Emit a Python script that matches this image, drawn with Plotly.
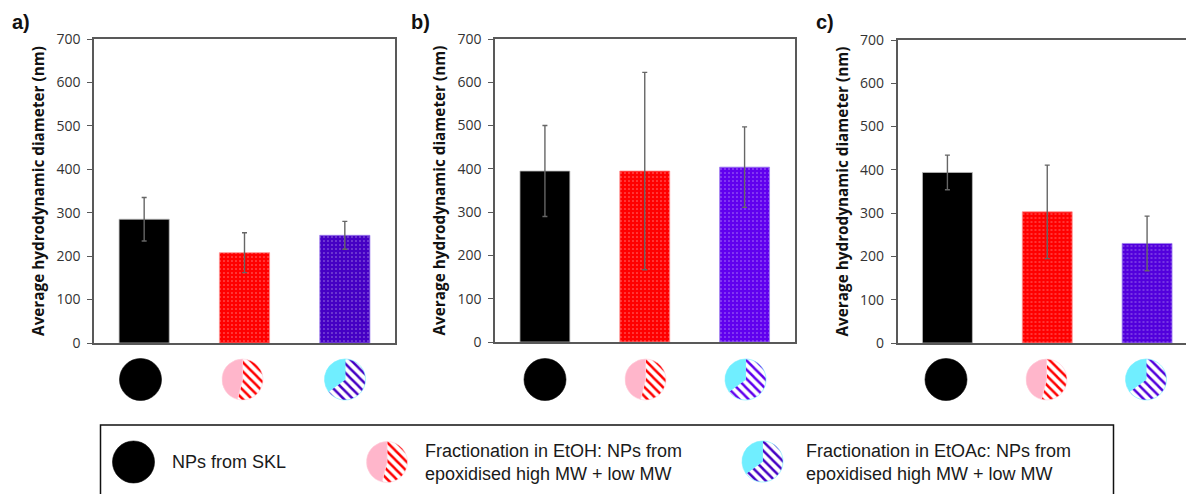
import plotly.graph_objects as go

# ---- data ----
groups = ["NPs from SKL", "EtOH fractionation", "EtOAc fractionation"]
means_a = [285, 208, 248]
errs_a = [50, 46, 32]
means_b = [395, 395, 404]
errs_b = [105, 228, 93]
means_c = [394, 303, 230]
errs_c = [40, 108, 63]
y_ticks = [0, 100, 200, 300, 400, 500, 600, 700]
y_title = "Average hydrodynamic diameter (nm)"
etoh_split = [54, 46]
etoac_split = [65, 35]
legend_single = "NPs from SKL"
legend_etoh = "Fractionation in EtOH: NPs from<br>epoxidised high MW + low MW"
legend_etoac = "Fractionation in EtOAc: NPs from<br>epoxidised high MW + low MW"

# ---- layout in pixels ----
W, H = 1200, 494
def px(x): return x / W
def py(y): return 1 - y / H

panels = [
    dict(name="a)", lx=10, ly=22, box=(94, 395, 39, 343), means=means_a, errs=errs_a,
         blue="#4500C4", cx=[140.5, 242.5, 345], cy=379.5),
    dict(name="b)", lx=409, ly=22, box=(495, 794.5, 39, 342), means=means_b, errs=errs_b,
         blue="#6000EE", cx=[545, 645.5, 745.5], cy=379.5),
    dict(name="c)", lx=814, ly=22, box=(897.5, 1197, 40, 343), means=means_c, errs=errs_c,
         blue="#5200DC", cx=[946, 1046.5, 1146], cy=379.5),
]
RED, PINK, CYAN = "#FF0000", "#FFB6CB", "#70EEFF"
AXIS = "#595959"
TICKFONT = dict(family="Open Sans", size=14, color="#333333")
TITLEFONT = dict(family="Open Sans", size=15.3, color="#111111", weight="bold")

fig = go.Figure()


def add_pie(kind, cx, cy, d, blue):
    dom = dict(x=[px(cx - d / 2), px(cx + d / 2)], y=[py(cy + d / 2), py(cy - d / 2)])
    if kind == 0:
        vals, cols, fgs, shapes, line = [1], ["#000000"], ["#000000"], [""], "#000000"
    elif kind == 1:
        vals, cols, fgs, shapes, line = etoh_split, ["#FFFFFF", PINK], [RED, PINK], ["\\", ""], "#FFD0DC"
    else:
        vals, cols, fgs, shapes, line = etoac_split, ["#FFFFFF", CYAN], [blue, CYAN], ["\\", ""], CYAN
    fig.add_trace(go.Pie(
        values=vals, sort=False, direction="clockwise", rotation=0, domain=dom,
        textinfo="none", hoverinfo="skip", showlegend=False,
        marker=dict(colors=cols, line=dict(color=line, width=0.6),
                    pattern=dict(shape=shapes, fgcolor=fgs, bgcolor=cols, size=6.5, solidity=0.38)),
    ))


annotations = []
for i, p in enumerate(panels):
    sfx = "" if i == 0 else str(i + 1)
    x0, x1, y0, y1 = p["box"]
    colors = ["#000000", RED, p["blue"]]
    fig.add_trace(go.Bar(
        x=groups, y=p["means"], width=0.5, xaxis="x" + sfx, yaxis="y" + sfx, showlegend=False,
        marker=dict(
            color=colors,
            line=dict(color=["#BBBBBB", "#FF9090", "#A080F0"], width=0.8),
            pattern=dict(shape=["", ".", "."], fgcolor="#FFFFFF", bgcolor=colors, size=4, solidity=0.12),
        ),
        error_y=dict(type="data", array=p["errs"], visible=True, color="#666666", thickness=1.4, width=2.5),
    ))
    fig.update_layout({
        "xaxis" + sfx: dict(domain=[px(x0), px(x1)], anchor="y" + sfx, range=[-0.5, 2.5], type="category",
                            showticklabels=False, ticks="", showline=True, linecolor=AXIS, linewidth=1.5,
                            mirror=True, showgrid=False, zeroline=False, automargin=False),
        "yaxis" + sfx: dict(domain=[py(y1), py(y0)], anchor="x" + sfx, range=[0, 700], tickvals=y_ticks,
                            ticks="outside", ticklen=5, tickwidth=1.2, tickcolor=AXIS, tickfont=TICKFONT,
                            ticklabelstandoff=4,
                            showline=True, linecolor=AXIS, linewidth=1.5, mirror=True, showgrid=False,
                            zeroline=False, automargin=False,
                            title=dict(text=y_title, font=TITLEFONT, standoff=8)),
    })
    annotations.append(dict(text=p["name"], x=px(p["lx"]), y=py(p["ly"]), xref="paper", yref="paper",
                            xanchor="left", yanchor="middle", showarrow=False,
                            font=dict(family="Liberation Sans", size=20, color="#111111", weight="bold")))
    for k, cx in enumerate(p["cx"]):
        add_pie(k, cx, p["cy"], 42 if k == 0 else 41, p["blue"])

# legend panel
add_pie(0, 133.5, 462, 42, None)
add_pie(1, 387, 462, 41, None)
add_pie(2, 762.5, 461.5, 41, "#4500C4")
for text, x in [(legend_single, 170), (legend_etoh, 423), (legend_etoac, 804)]:
    annotations.append(dict(text=text, x=px(x), y=py(462), xref="paper", yref="paper", align="left",
                            xanchor="left", yanchor="middle", showarrow=False,
                            font=dict(family="Liberation Sans", size=18, color="#1a1a1a")))

fig.update_layout(
    width=W, height=H, margin=dict(l=0, r=0, t=0, b=0, pad=0, autoexpand=False),
    paper_bgcolor="white", plot_bgcolor="white",
    annotations=annotations,
    shapes=[dict(type="rect", xref="paper", yref="paper", x0=px(100.5), x1=px(1113.5),
                 y0=py(505), y1=py(425), line=dict(color="#111111", width=1.5))],
)
fig.write_html("out.html", config=dict(displayModeBar=False, responsive=False),
               post_script="document.body.style.margin='0';document.body.style.overflow='hidden';")
